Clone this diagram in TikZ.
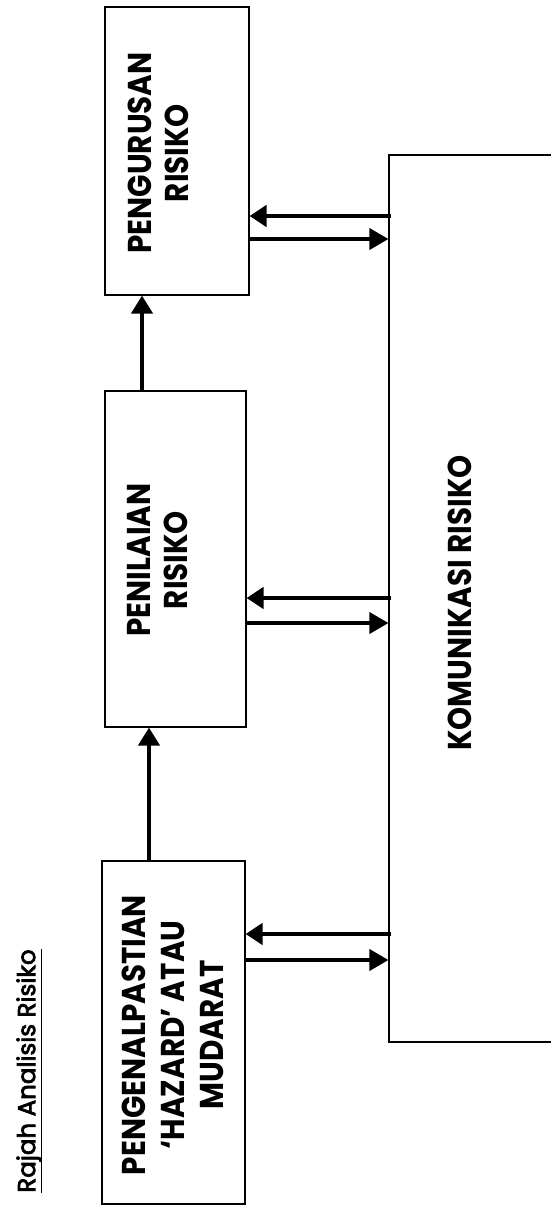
\documentclass[tikz,border=0pt]{standalone}
\usepackage{fontspec}
\setmainfont{Poppins}
\newfontfamily\boxfont[FakeStretch=0.89]{Poppins}
\newfontfamily\titlefont[FakeBold=3]{Poppins}
\usetikzlibrary{arrows.meta}
\begin{document}
\begin{tikzpicture}[x=1pt,y=-1pt,
  boxst/.style={draw=black, line width=1.1pt, inner sep=0pt, fill=none},
  lblst/.style={rotate=90, align=center, inner sep=0pt, font=\boxfont\bfseries\fontsize{33}{37}\selectfont},
  inarr/.style={line width=4.8pt, -{Triangle[length=17pt,width=21pt]}},
  outarr/.style={line width=3.8pt, -{Triangle[length=19pt,width=21pt]}},
  uparr/.style={line width=4pt, -{Triangle[length=18pt,width=21pt]}}]
\useasboundingbox (0,0) rectangle (551,1205);
\clip (0,0) rectangle (551,1205);
% boxes
\node[boxst, minimum width=144pt, minimum height=288pt] (box1) at (177,151) {};
\node[boxst, minimum width=141pt, minimum height=336pt] (box2) at (175.5,559) {};
\node[boxst, minimum width=143pt, minimum height=343pt] (box3) at (173.5,1032.5) {};
\node[boxst, minimum width=211pt, minimum height=887pt] (big) at (494.5,598.5) {};
% labels
\node[lblst] (lbl1) at (158,153) {PENGURUSAN\\RISIKO};
\node[lblst] (lbl2) at (157.5,560) {PENILAIAN\\RISIKO};
\node[lblst, font=\boxfont\bfseries\fontsize{33}{39}\selectfont] (lbl3) at (173,1035) {PENGENALPASTIAN\\‘HAZARD’ ATAU\\MUDARAT};
\node[lblst] (lblbig) at (460,603) {KOMUNIKASI RISIKO};
\node[rotate=90, inner sep=0pt, font=\titlefont\fontsize{24.5}{28}\selectfont] (title) at (29,1071) {Rajah Analisis Risiko};
\draw[line width=1.5pt] (title.south west) -- (title.south east);
% helper coordinates
\coordinate (ya) at (0,216);
\coordinate (yb) at (0,239);
\coordinate (yc) at (0,598);
\coordinate (yd) at (0,623);
\coordinate (ye) at (0,934);
\coordinate (yf) at (0,960);
\coordinate (xa) at (142,0);
\coordinate (xb) at (149,0);
% vertical flow arrows
\draw[uparr] (box3.north -| xb) -- (box2.south -| xb);
\draw[uparr] (box2.north -| xa) -- (box1.south -| xa);
% exchange arrows
\draw[inarr, shorten <=-3pt] (big.west |- ya) -- (box1.east |- ya);
\draw[outarr] (box1.east |- yb) -- (big.west |- yb);
\draw[inarr, shorten <=-3pt] (big.west |- yc) -- (box2.east |- yc);
\draw[outarr] (box2.east |- yd) -- (big.west |- yd);
\draw[inarr, shorten <=-3pt] (big.west |- ye) -- (box3.east |- ye);
\draw[outarr] (box3.east |- yf) -- (big.west |- yf);
\end{tikzpicture}
\end{document}
